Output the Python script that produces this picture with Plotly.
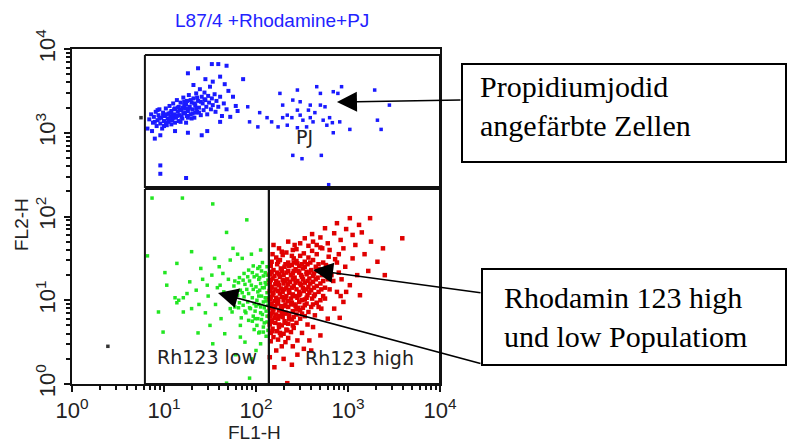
import plotly.graph_objects as go

# ---------------- data (log10 of FL1-H, log10 of FL2-H) ----------------
blue_dead = [
    (0.84,3.16),(0.86,3.22),(0.88,3.12),(0.89,3.19),(0.91,3.25),(0.92,3.08),(0.93,3.15),(0.94,3.21),
    (0.95,3.28),(0.96,3.11),(0.97,3.18),(0.98,3.05),(0.99,3.24),(1.00,3.14),(1.01,3.20),(1.02,3.29),
    (1.03,3.09),(1.04,3.17),(1.05,3.23),(1.05,3.13),(1.06,3.32),(1.07,3.19),(1.08,3.10),(1.08,3.26),
    (1.09,3.15),(1.10,3.35),(1.11,3.22),(1.12,3.29),(1.12,3.12),(1.13,3.18),(1.14,3.39),(1.15,3.25),
    (1.16,3.31),(1.16,3.14),(1.17,3.21),(1.18,3.36),(1.19,3.27),(1.20,3.17),(1.21,3.42),(1.21,3.23),
    (1.22,3.33),(1.23,3.29),(1.24,3.12),(1.25,3.38),(1.25,3.20),(1.26,3.26),(1.27,3.45),(1.28,3.31),
    (1.29,3.22),(1.30,3.36),(1.31,3.28),(1.32,3.41),(1.33,3.18),(1.34,3.33),(1.35,3.47),(1.36,3.25),
    (1.37,3.38),(1.38,3.30),(1.39,3.52),(1.40,3.21),(1.41,3.43),(1.42,3.35),(1.43,3.27),(1.44,3.48),
    (1.45,3.39),(1.46,3.31),(1.47,3.22),(1.48,3.44),(1.49,3.36),(1.50,3.55),(1.51,3.28),(1.52,3.41),
    (1.53,3.33),(1.55,3.46),(1.56,3.25),(1.57,3.38),(1.59,3.31),(1.61,3.43),(1.63,3.20),(1.65,3.35),
    (1.03,3.22),(1.07,3.24),(1.10,3.18),(1.11,3.28),(1.14,3.20),(1.15,3.30),(1.17,3.27),(1.19,3.19),
    (1.20,3.30),(1.23,3.24),(1.24,3.34),(1.26,3.18),(1.27,3.29),(1.29,3.39),(1.31,3.23),(1.33,3.35),
    (1.35,3.29),(1.36,3.42),(1.38,3.24),(1.40,3.37),(0.90,3.13),(0.95,3.17),(0.99,3.20),(1.02,3.12),
    (1.06,3.15),(1.52,3.82),(1.59,3.82),(1.68,3.80),(1.37,3.77),(1.26,3.71),(1.61,3.67),(1.86,3.64),
    (1.45,3.64),(1.53,3.61),(1.32,3.57),(0.90,2.93),(0.96,2.97),(1.26,3.00),(1.41,2.97),(1.47,3.02),
    (0.96,2.61),(0.96,2.51),(1.24,2.46),(1.61,3.13),(1.72,3.19),(1.75,3.43),(1.70,3.50),(1.66,3.58),
    (0.82,3.05),(0.87,3.02),(1.12,3.02),(1.78,3.32),(1.80,3.26),(1.68,3.28),
    (0.93,3.27),(1.00,3.08),(1.09,3.21),(1.18,3.13),(1.22,3.37),(1.30,3.17),(1.34,3.24),(1.44,3.40),
]
blue_pj = [
    (2.26,3.47),(2.45,3.51),(2.66,3.55),(2.70,3.47),(2.84,3.49),(2.93,3.55),(2.89,3.47),(3.29,3.51),
    (3.45,3.33),(3.32,3.15),(3.36,3.04),(3.02,3.04),(2.84,3.00),(1.91,3.31),(1.93,3.13),(2.04,3.24),
    (2.12,3.18),(2.17,3.13),(2.02,3.07),(2.24,3.07),(2.29,3.33),(2.40,3.39),(2.48,3.37),(2.59,3.33),
    (2.70,3.33),(2.75,3.31),(2.57,3.27),(2.45,3.27),(2.34,3.21),(2.39,3.18),(2.51,3.15),(2.59,3.18),
    (2.62,3.13),(2.73,3.15),(2.80,3.18),(2.83,3.12),(2.91,3.13),(2.77,3.09),(2.55,3.07),(2.34,3.09),
    (2.45,3.06),(2.29,3.18),(2.40,2.73),(2.50,2.69),(2.71,2.73),(2.79,2.38),(2.64,3.24),(2.48,3.21),
]
green_low = [
    (2.12,1.40),(2.10,1.33),(2.13,1.24),(2.11,1.19),(2.12,1.09),(2.10,1.03),(2.13,0.94),(2.11,0.87),
    (2.12,0.81),(2.09,0.73),(2.13,0.64),(2.11,0.57),(2.07,1.45),(2.06,1.35),(2.08,1.29),(2.05,1.20),
    (2.07,1.15),(2.06,1.05),(2.08,0.98),(2.05,0.92),(2.07,0.83),(2.06,0.77),(2.08,0.68),(2.04,0.62),
    (2.02,1.38),(2.01,1.30),(2.03,1.25),(2.00,1.16),(2.02,1.10),(2.01,1.00),(2.03,0.95),(1.99,0.87),
    (2.02,0.78),(2.01,0.70),(2.03,0.61),(1.97,1.41),(1.96,1.33),(1.98,1.28),(1.95,1.18),(1.97,1.13),
    (1.96,1.03),(1.98,0.96),(1.94,0.90),(1.97,0.81),(1.96,0.75),(1.98,0.65),(1.92,1.36),(1.91,1.28),
    (1.93,1.23),(1.90,1.13),(1.92,1.08),(1.91,0.98),(1.93,0.91),(1.89,0.85),(1.92,0.76),(1.87,1.32),
    (1.86,1.24),(1.88,1.19),(1.85,1.09),(1.87,1.04),(1.86,0.94),(1.88,0.87),(1.84,0.79),(1.82,1.27),
    (1.81,1.21),(1.83,1.12),(1.80,1.06),(1.82,0.97),(1.81,0.91),(1.83,0.70),(1.77,1.23),(1.76,1.17),
    (1.78,1.07),(1.75,1.01),(1.77,0.92),(1.74,0.86),(2.10,1.21),(2.04,1.12),(2.11,0.99),(2.05,0.85),
    (2.12,1.30),(2.09,1.15),(2.12,1.03),(2.09,0.91),(2.12,0.74),(2.08,0.62),(2.04,1.40),(2.04,1.27),
    (2.03,1.05),(2.00,0.93),(1.99,0.78),
    (0.87,2.22),(1.20,2.22),(1.53,2.15),(0.82,1.53),(1.30,1.58),(1.14,1.44),(1.01,1.33),(0.94,0.86),
    (0.99,0.62),(1.37,0.61),(1.68,1.81),(1.90,1.96),(1.83,0.56),(1.93,0.07),(1.68,0.01),(1.61,1.18),
    (1.21,1.03),(1.12,1.03),(1.16,1.00),(1.14,0.97),(1.21,0.86),(1.28,1.22),(1.03,1.18),(1.25,1.08),
    (1.35,1.12),(1.42,1.25),(1.48,1.05),(1.52,1.30),(1.56,0.95),(1.60,1.40),(1.65,1.10),(1.70,1.25),
    (1.72,0.90),(1.45,0.85),(1.40,1.38),(1.55,1.50),(1.62,0.78),(1.66,0.60),(1.72,1.48),(1.75,1.62),
    (1.80,1.55),(1.85,1.50),(1.95,1.55),(2.05,1.60),(1.88,0.50),(2.00,0.40),(2.05,0.48),(1.95,0.30),
    (1.78,0.35),(1.50,0.70),(1.30,0.90),(1.58,1.15),(1.64,1.32),(1.47,1.18),(1.53,0.48),(1.38,0.95),
]
red_high = [
    (2.33,1.57),(2.44,1.61),(2.52,1.56),(2.61,1.59),(2.70,1.63),(2.39,1.53),
    (2.22,1.51),(2.29,1.54),(2.41,1.50),(2.48,1.53),(2.57,1.51),(2.66,1.55),(2.79,1.52),
    (2.17,1.46),(2.26,1.48),(2.35,1.45),(2.44,1.47),(2.53,1.46),(2.62,1.48),(2.73,1.45),(2.86,1.49),
    (2.16,1.41),(2.23,1.43),(2.31,1.40),(2.39,1.42),(2.47,1.41),(2.56,1.43),(2.65,1.40),(2.76,1.42),
    (2.19,1.36),(2.27,1.38),(2.35,1.35),(2.43,1.37),(2.51,1.38),(2.60,1.36),(2.69,1.37),(2.81,1.35),
    (2.15,1.31),(2.23,1.33),(2.30,1.30),(2.40,1.32),(2.47,1.33),(2.55,1.31),(2.63,1.32),(2.72,1.30),(2.90,1.33),
    (2.18,1.26),(2.26,1.28),(2.34,1.25),(2.42,1.27),(2.50,1.28),(2.58,1.26),(2.67,1.27),(2.78,1.25),
    (2.15,1.21),(2.22,1.23),(2.30,1.20),(2.37,1.22),(2.45,1.23),(2.53,1.21),(2.62,1.22),(2.70,1.20),(2.84,1.23),
    (2.17,1.16),(2.25,1.18),(2.33,1.15),(2.41,1.17),(2.49,1.18),(2.57,1.16),(2.66,1.17),(2.75,1.15),
    (2.15,1.11),(2.21,1.13),(2.29,1.10),(2.36,1.12),(2.44,1.13),(2.52,1.11),(2.60,1.12),(2.68,1.10),(2.80,1.13),
    (2.18,1.06),(2.26,1.08),(2.33,1.05),(2.40,1.07),(2.48,1.08),(2.56,1.06),(2.64,1.07),(2.73,1.05),
    (2.15,1.01),(2.22,1.03),(2.30,1.00),(2.38,1.02),(2.45,1.03),(2.53,1.01),(2.61,1.02),(2.70,1.00),
    (2.17,0.96),(2.24,0.98),(2.32,0.95),(2.39,0.97),(2.47,0.98),(2.55,0.96),(2.66,0.97),
    (2.15,0.91),(2.21,0.93),(2.28,0.90),(2.35,0.92),(2.43,0.93),(2.51,0.91),(2.60,0.92),(2.71,0.90),
    (2.18,0.86),(2.25,0.88),(2.32,0.85),(2.40,0.87),(2.48,0.88),(2.57,0.86),
    (2.15,0.81),(2.22,0.83),(2.29,0.80),(2.36,0.82),(2.44,0.83),(2.53,0.81),(2.64,0.82),
    (2.17,0.76),(2.24,0.78),(2.31,0.75),(2.39,0.77),(2.48,0.78),
    (2.15,0.71),(2.21,0.73),(2.28,0.70),(2.35,0.72),(2.44,0.73),(2.56,0.71),
    (2.18,0.66),(2.25,0.68),(2.33,0.65),(2.41,0.67),
    (2.16,0.61),(2.23,0.63),(2.30,0.60),(2.38,0.62),(2.50,0.61),
    (2.19,0.56),(2.27,0.58),(2.35,0.55),(2.16,0.51),(2.24,0.53),(2.32,0.50),(2.45,0.52),
    (2.20,1.29),(2.28,1.35),(2.36,1.41),(2.45,1.44),(2.53,1.40),(2.21,1.19),(2.29,1.24),(2.38,1.30),
    (2.46,1.35),(2.55,1.34),(2.62,1.29),(2.19,1.09),(2.27,1.14),(2.35,1.19),(2.43,1.21),(2.51,1.25),
    (2.59,1.20),(2.20,0.99),(2.28,1.04),(2.36,1.09),(2.43,1.05),(2.51,1.15),(2.58,1.09),(2.19,0.89),
    (2.27,0.93),(2.35,0.99),(2.42,0.95),(2.50,1.00),(2.20,0.79),(2.28,0.85),(2.36,0.78),(2.44,0.89),
    (2.16,1.44),(2.24,1.46),(2.32,1.43),(2.41,1.45),(2.50,1.43),(2.59,1.45),(2.68,1.43),
    (2.17,1.34),(2.25,1.31),(2.33,1.33),(2.41,1.35),(2.49,1.30),(2.58,1.33),(2.66,1.35),(2.74,1.33),
    (2.16,1.24),(2.24,1.21),(2.32,1.23),(2.40,1.25),(2.48,1.20),(2.56,1.23),(2.65,1.25),(2.73,1.23),
    (2.16,1.14),(2.24,1.11),(2.31,1.13),(2.39,1.15),(2.47,1.10),(2.55,1.13),(2.63,1.15),(2.71,1.13),
    (2.16,1.04),(2.24,1.01),(2.32,1.03),(2.40,1.05),(2.47,1.06),(2.55,1.03),(2.63,1.05),
    (2.16,0.94),(2.23,0.96),(2.31,0.93),(2.38,0.95),(2.46,0.91),(2.53,0.94),(2.62,0.95),
    (2.17,0.84),(2.25,0.81),(2.33,0.84),(2.41,0.80),(2.50,0.84),
    (2.17,0.74),(2.25,0.71),(2.32,0.73),(2.40,0.70),(2.18,0.63),(2.26,0.61),(2.34,0.64),
    (2.62,1.70),(2.70,1.75),(2.78,1.68),(2.85,1.80),(2.92,1.72),(2.98,1.85),(3.05,1.78),(2.88,1.92),
    (3.12,1.90),(3.24,1.98),(3.02,1.98),(2.75,1.86),(2.61,1.79),(2.53,1.74),(2.48,1.68),(2.95,1.62),
    (3.08,1.66),(3.15,1.81),(2.42,1.66),(2.19,1.66),(2.35,1.70),(2.80,1.60),(3.59,1.74),(3.32,1.46),
    (3.13,1.06),(3.02,1.18),(2.97,1.40),(3.05,1.50),(2.90,1.55),(3.18,1.55),(2.93,1.25),(2.88,1.10),
    (2.95,0.98),(2.85,0.90),(2.78,0.78),(2.70,0.58),(2.91,0.79),(2.62,0.68),(2.58,0.52),(2.52,0.42),
    (2.45,0.35),(2.39,0.23),(2.34,0.01),(2.15,0.32),(2.22,0.40),(2.28,0.45),(2.30,0.30),(2.40,0.45),
    (2.20,0.20),(2.60,0.40),(2.68,0.92),(2.75,1.02),(2.82,1.30),(2.88,1.45),(2.72,1.62),(2.66,1.66),
    (2.57,1.65),(2.28,1.58),(2.18,1.55),(2.25,1.62),(2.40,1.60),(3.38,1.62),(3.22,1.35),(3.10,1.30),
    (3.25,1.70),(2.98,1.10),(2.80,1.40),(2.92,1.05),(3.40,1.30),
]
ungated = [(0.39,0.45),(0.75,3.18)]

# gates (FL1-H, FL2-H in linear units)
pj_gate_x = [6.2, 10000, 10000, 6.2, 6.2]
pj_gate_y = [8480, 8480, 225, 225, 8480]
low_gate_x = [6.2, 138, 138, 6.2, 6.2]
low_gate_y = [213, 213, 1, 1, 213]
high_gate_x = [138, 10000, 10000, 138, 138]
high_gate_y = [213, 213, 1, 1, 213]

tick_vals = [1, 10, 100, 1000, 10000]
tick_exps = ["0", "1", "2", "3", "4"]
minor_vals = [m * 10 ** d for d in range(4) for m in range(2, 10)]

def lin(pts, i):
    return [10 ** p[i] for p in pts]

# ---------------- figure ----------------
W, H = 788, 444
L, R, T, B = 72, 348, 49, 60
PW, PH = W - L - R, H - T - B

def px(x):
    return (x - L) / PW

def py(y):
    return (H - B - y) / PH

tick_text = ["10<sup>%s</sup>" % e for e in tick_exps]

fig = go.Figure()
pops = [(ungated, "#333333", 3.5), (blue_dead, "#1a1aff", 4), (blue_pj, "#1a1aff", 3.5),
        (green_low, "#22e622", 3.5), (red_high, "#e00000", 4.5)]
for pts, col, sz in pops:
    fig.add_trace(go.Scatter(x=lin(pts, 0), y=lin(pts, 1), mode="markers",
                             marker=dict(symbol="square", size=sz, color=col, line=dict(width=0)),
                             hoverinfo="skip", showlegend=False))
for gx, gy in [(pj_gate_x, pj_gate_y), (low_gate_x, low_gate_y), (high_gate_x, high_gate_y)]:
    fig.add_trace(go.Scatter(x=gx, y=gy, mode="lines", line=dict(color="#111111", width=2),
                             cliponaxis=False, hoverinfo="skip", showlegend=False))

tick_font = dict(family="Liberation Sans", size=22, color="#222222")
axis_common = dict(type="log", range=[0, 4], showgrid=False, zeroline=False,
                   showline=True, linecolor="#111111", linewidth=2, mirror=True,
                   ticks="outside", ticklen=6, tickwidth=1.5, tickcolor="#111111",
                   tickmode="array", tickvals=tick_vals, ticktext=tick_text,
                   tickfont=tick_font,
                   minor=dict(tickvals=minor_vals, ticks="outside", ticklen=4,
                              tickwidth=1.5, tickcolor="#111111"))
fig.update_layout(xaxis=axis_common, yaxis=dict(axis_common, tickangle=-90))

label_font = dict(family="DejaVu Sans", size=19, color="#222222")
serif = dict(family="Liberation Serif", size=30, color="#000000")
ctr = dict(xanchor="center", yanchor="middle", showarrow=False)
ann = [
    dict(text="L87/4 +Rhodamine+PJ", x=px(272), y=py(20), xref="paper", yref="paper",
         font=dict(family="Liberation Sans", size=19, color="#2222ff"), **ctr),
    dict(text="FL1-H", x=px(254), y=py(432), xref="paper", yref="paper",
         font=dict(family="Liberation Sans", size=19, color="#222222"), **ctr),
    dict(text="FL2-H", x=px(21), y=py(225), xref="paper", yref="paper", textangle=-90,
         font=dict(family="Liberation Sans", size=19, color="#222222"), **ctr),
    dict(text="PJ", x=2.53, y=2.95, xref="x", yref="y", font=label_font, **ctr),
    dict(text="Rh123 low", x=1.47, y=0.32, xref="x", yref="y", font=label_font, **ctr),
    dict(text="Rh123 high", x=3.13, y=0.31, xref="x", yref="y", font=label_font, **ctr),
    dict(text="Propidiumjodid<br>angefärbte Zellen", x=px(478), y=py(106), xref="paper", yref="paper",
         xanchor="left", yanchor="middle", align="left", showarrow=False, font=serif),
    dict(text="Rhodamin 123 high<br>und low Populatiom", x=px(502), y=py(317), xref="paper", yref="paper",
         xanchor="left", yanchor="middle", align="left", showarrow=False, font=serif),
]
arrow_style = dict(text="", showarrow=True, arrowhead=2, arrowwidth=1.6, arrowsize=2.5,
                   arrowcolor="#000000", xref="x", yref="y", axref="pixel", ayref="pixel", standoff=0)
ann += [
    dict(x=2.880, y=3.367, ax=125, ay=-2, **arrow_style),
    dict(x=2.620, y=1.361, ax=169, ay=23, **arrow_style),
    dict(x=1.587, y=1.087, ax=264, ay=71, **arrow_style),
]

shapes = [
    dict(type="rect", xref="paper", yref="paper", x0=px(462), x1=px(786), y0=py(162), y1=py(64),
         line=dict(color="#000000", width=2)),
    dict(type="rect", xref="paper", yref="paper", x0=px(482), x1=px(786), y0=py(365), y1=py(269),
         line=dict(color="#000000", width=2)),
]

fig.update_layout(width=W, height=H, margin=dict(l=L, r=R, t=T, b=B, autoexpand=False),
                  paper_bgcolor="white", plot_bgcolor="white",
                  annotations=ann, shapes=shapes, showlegend=False)
fig.write_html("out.html")
